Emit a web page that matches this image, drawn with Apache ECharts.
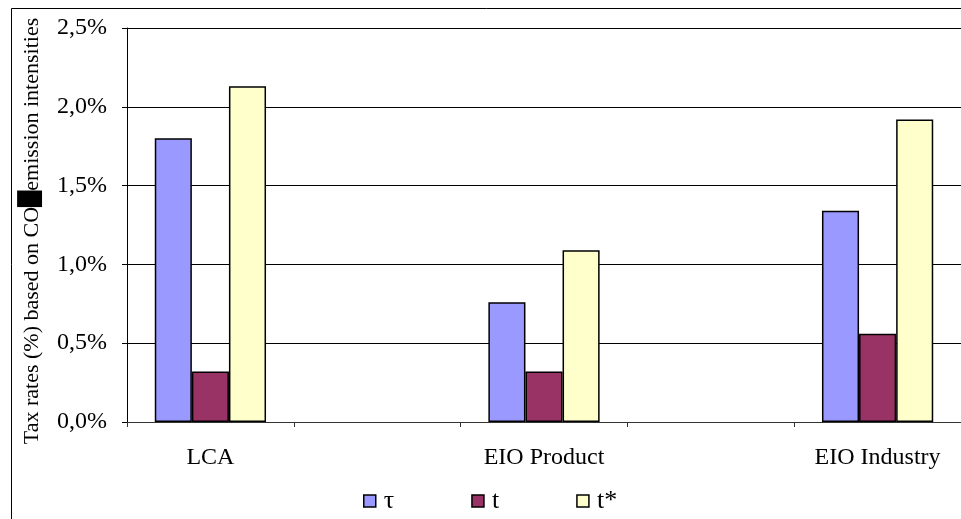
<!DOCTYPE html>
<html>
<head>
<meta charset="utf-8">
<script src="https://cdn.jsdelivr.net/npm/echarts@6/dist/echarts.min.js"></script>
<style>
html,body{margin:0;padding:0;background:#fff;}
#chart{width:961px;height:519px;}
</style>
</head>
<body>
<div id="chart"></div>
<script>
const categories = ['LCA', '', 'EIO Product', '', 'EIO Industry'];
const seriesNames = ['τ', 't', 't*'];
const tauValues = [1.80, '-', 0.76, '-', 1.34];
const tValues = [0.32, '-', 0.32, '-', 0.56];
const tStarValues = [2.13, '-', 1.09, '-', 1.92];
const yTickLabels = ['0,0%', '0,5%', '1,0%', '1,5%', '2,0%', '2,5%'];
const yAxisTitleParts = ['Tax rates (%) based on CO', '█', 'emission intensities'];

const FONT = '"Liberation Serif", "Times New Roman", serif';
const colors = ['#9999FF', '#993366', '#FFFFCC'];
const allValues = [tauValues, tValues, tStarValues];

const chart = echarts.init(document.getElementById('chart'), null, {renderer: 'canvas'});
chart.setOption({
  animation: false,
  backgroundColor: '#ffffff',
  textStyle: {fontFamily: FONT, color: '#000'},
  grid: {left: 127, top: 28, width: 840, height: 394, containLabel: false},
  graphic: [{
    type: 'rect', left: 9, top: 6, z: -1,
    shape: {width: 1000, height: 1000},
    style: {fill: 'none', stroke: '#000', lineWidth: 1}
  }],
  legend: {
    left: 358, top: 483,
    icon: 'rect', itemWidth: 12, itemHeight: 12, itemGap: 77,
    textStyle: {fontFamily: FONT, fontSize: 26, color: '#000', padding: [0, 0, 0, 3]},
    itemStyle: {borderColor: '#000', borderWidth: 1.5},
    data: seriesNames
  },
  xAxis: {
    type: 'category',
    data: categories,
    boundaryGap: true,
    axisLine: {show: true, lineStyle: {color: '#333', width: 1}},
    axisTick: {show: true, interval: 0, length: 5, lineStyle: {color: '#333'}},
    axisLabel: {interval: 0, margin: 24, fontFamily: FONT, fontSize: 24, color: '#000'},
    splitLine: {show: false}
  },
  yAxis: {
    type: 'value',
    min: 0, max: 2.5, interval: 0.5,
    name: '{a|' + yAxisTitleParts[0] + '}{b|' + yAxisTitleParts[1] + '}{a|' + yAxisTitleParts[2] + '}',
    nameLocation: 'middle',
    nameGap: 84,
    nameRotate: 90,
    nameTextStyle: {
      fontFamily: FONT, fontSize: 22, color: '#000', padding: [0, 12, 0, 0],
      rich: {
        a: {fontFamily: FONT, fontSize: 22, color: '#000'},
        b: {fontFamily: '"DejaVu Sans", sans-serif', fontSize: 21, color: '#000'}
      }
    },
    axisLine: {show: true, lineStyle: {color: '#000', width: 1}},
    axisTick: {show: true, length: 5, lineStyle: {color: '#000'}},
    axisLabel: {
      margin: 20, fontFamily: FONT, fontSize: 24, color: '#000',
      formatter: function (v) { return yTickLabels[Math.round(v / 0.5)]; }
    },
    splitLine: {show: true, lineStyle: {color: '#000', width: 1}}
  },
  series: seriesNames.map(function (name, i) {
    return {
      name: name,
      type: 'bar',
      data: allValues[i],
      barGap: '0%',
      barCategoryGap: '33.3%',
      itemStyle: {color: colors[i], borderColor: '#000', borderWidth: 1.5}
    };
  })
});
</script>
</body>
</html>
